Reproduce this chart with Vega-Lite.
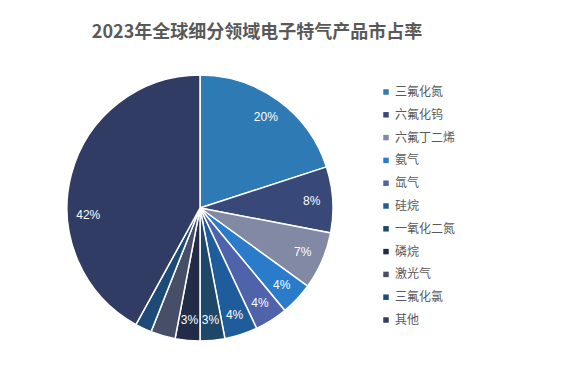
{
  "$schema": "https://vega.github.io/schema/vega-lite/v6.json",
  "width": 400,
  "height": 300,
  "autosize": "none",
  "padding": {"left": 0, "top": 58, "right": 170, "bottom": 20},
  "background": "white",
  "config": {"view": {"stroke": null}},
  "title": {
    "text": "2023年全球细分领域电子特气产品市占率",
    "font": "Noto Sans CJK SC",
    "fontSize": 18,
    "fontWeight": "bold",
    "color": "#595959",
    "anchor": "middle",
    "dx": 57,
    "offset": 16
  },
  "data": {
    "values": [
      {"name": "三氟化氮", "value": 0.20, "order": 1},
      {"name": "六氟化钨", "value": 0.08, "order": 2},
      {"name": "六氟丁二烯", "value": 0.07, "order": 3},
      {"name": "氨气", "value": 0.04, "order": 4},
      {"name": "氙气", "value": 0.04, "order": 5},
      {"name": "硅烷", "value": 0.04, "order": 6},
      {"name": "一氧化二氮", "value": 0.03, "order": 7},
      {"name": "磷烷", "value": 0.03, "order": 8},
      {"name": "激光气", "value": 0.03, "order": 9},
      {"name": "三氟化氯", "value": 0.02, "order": 10},
      {"name": "其他", "value": 0.42, "order": 11}
    ]
  },
  "encoding": {
    "theta": {"field": "value", "type": "quantitative", "stack": true},
    "order": {"field": "order", "type": "quantitative"}
  },
  "layer": [
    {
      "mark": {"type": "arc", "outerRadius": 133, "stroke": "white", "strokeWidth": 1.5},
      "encoding": {
        "color": {
          "field": "name",
          "type": "nominal",
          "scale": {
            "domain": ["三氟化氮", "六氟化钨", "六氟丁二烯", "氨气", "氙气", "硅烷", "一氧化二氮", "磷烷", "激光气", "三氟化氯", "其他"],
            "range": ["#2E7AB5", "#384878", "#8189A4", "#2A7CCB", "#4F63AA", "#1F5C9C", "#1E4868", "#222B48", "#474F68", "#1D4A76", "#313C65"]
          },
          "legend": {
            "title": null,
            "orient": "none",
            "legendX": 380,
            "legendY": 28,
            "symbolType": "square",
            "symbolSize": 30,
            "symbolStrokeWidth": 0,
            "labelFont": "Noto Sans CJK SC",
            "labelFontSize": 12,
            "labelColor": "#595959",
            "rowPadding": 10.8,
            "labelOffset": 3
          }
        }
      }
    },
    {
      "transform": [{"filter": "datum.name != '激光气' && datum.name != '三氟化氯'"}],
      "mark": {"type": "text", "radius": 112, "font": "Liberation Sans", "fontSize": 12, "fill": "white"},
      "encoding": {
        "text": {"field": "value", "type": "quantitative", "format": ".0%"}
      }
    }
  ]
}
